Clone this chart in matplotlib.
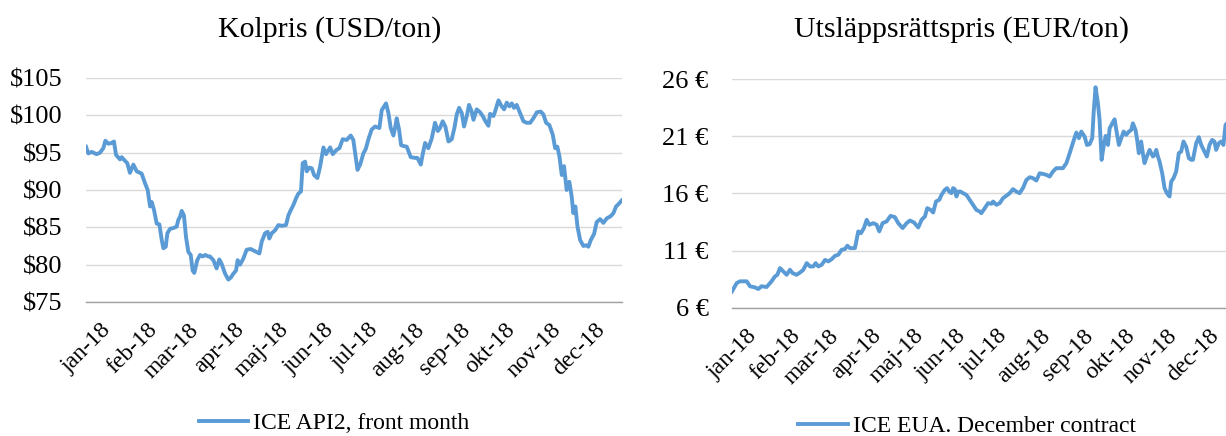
import numpy as np
import pandas as pd
import matplotlib
matplotlib.use("Agg")
import matplotlib.pyplot as plt
from matplotlib.transforms import ScaledTranslation

plt.rcParams['font.family'] = ['Liberation Serif', 'DejaVu Serif']

# day of year 2018 (0 = 1 jan) and price
coal_day = [0, 1.6, 3.8, 7.2, 9.5, 11.7, 13.1, 15.1, 17.4, 18.9, 20.3, 23.0, 24.1, 26.4, 27.9,
            29.7, 32.0, 34.3, 37.6, 39.9, 41.7, 43.3, 44.4, 46.0, 47.8, 49.6, 51.2, 52.3, 53.9,
            55.0, 56.8, 59.0, 61.3, 62.4, 63.5, 64.7, 66.2, 67.6, 69.2, 70.8, 72.1, 73.2, 75.2,
            77.1, 78.9, 80.6, 82.7, 83.8, 86.1, 88.3, 90.1, 91.7, 94.0, 96.2, 98.0, 99.6, 101.4,
            102.5, 104.1, 106.3, 108.6, 111.3, 114.2, 117.2, 118.8, 121.0, 122.8, 123.9, 125.5,
            127.8, 130.0, 132.3, 135.2, 136.8, 138.4, 140.2, 142.0, 143.5, 145.3,
            146.5, 148.1, 149.2, 151.0, 152.6, 154.2, 156.4, 158.2, 160.5, 162.3, 165.0, 166.8,
            169.5, 171.3, 173.5, 176.2, 178.9, 180.7, 183.5, 185.3, 187.5, 189.1, 190.9, 193.1,
            195.4, 198.3, 199.9, 202.8, 204.4, 206.0, 207.8, 209.1, 210.0, 211.6, 213.0, 214.5,
            216.8, 219.5, 222.4, 224.0, 226.3, 227.6, 229.2, 231.4, 233.7, 235.9, 237.8, 239.3,
            241.1, 242.9, 245.0, 247.2, 249.0, 250.6, 252.2, 254.0, 255.5, 257.4, 258.9, 260.7,
            261.9, 264.1, 266.4, 268.2, 270.0, 272.0, 273.1, 275.4, 276.5, 278.8, 281.0, 282.6,
            284.4, 286.2, 287.8, 289.3, 291.1, 293.4, 295.7, 297.9, 300.2, 302.4, 304.7, 307.4,
            309.2, 311.0, 313.2, 315.5, 317.1, 318.6, 320.0, 321.6, 323.1, 324.9, 326.7, 328.3,
            329.4, 330.8, 332.2, 334.0, 336.2, 338.0, 339.6, 341.2, 343.4, 345.2, 347.5, 349.7,
            352.0, 354.7, 356.5, 358.3, 359.9, 362.1]
coal_price = [95.8, 94.9, 95.1, 94.8, 95.0, 95.6, 96.6, 96.2, 96.3, 96.5, 94.7, 94.1, 94.4, 93.9,
              93.6, 92.3, 93.4, 92.5, 92.2, 90.9, 90.0, 87.8, 88.4, 87.3, 85.5, 85.4, 83.3, 82.2,
              82.4, 84.2, 84.8, 84.9, 85.1, 86.0, 86.4, 87.2, 86.6, 83.7, 81.7, 81.3, 79.2, 78.9,
              80.6, 81.3, 81.1, 81.3, 81.1, 81.1, 80.6, 79.5, 80.7, 80.1, 78.8, 78.0, 78.3, 78.8,
              79.2, 80.6, 80.0, 80.8, 82.0, 82.1, 81.8, 81.5, 83.1, 84.2, 84.4, 83.5, 84.2, 84.6,
              85.3, 85.2, 85.3, 86.6, 87.3, 88.0, 88.9, 89.5, 89.8,
              93.6, 93.8, 92.5, 93.0, 92.9, 92.0, 91.6, 93.1, 95.7, 94.8, 95.7, 94.8, 95.4, 95.6,
              96.8, 96.7, 97.3, 96.7, 92.7, 93.4, 94.9, 95.5, 96.8, 98.1, 98.5, 98.3, 100.7, 101.6,
              100.3, 98.3, 97.3, 98.5, 99.6, 98.1, 96.0, 95.9, 95.8, 94.4, 94.3, 94.3, 93.4, 94.8,
              96.3, 95.6, 96.9, 99.0, 97.9, 98.3, 99.2, 98.5, 96.5, 96.8, 98.3, 100.1, 101.0,
              100.3, 98.5, 99.9, 101.4, 100.5, 99.4, 100.8, 100.4, 99.9, 99.2, 98.6, 100.2, 99.9,
              100.5, 102.0, 101.2, 100.8, 101.7, 101.2, 101.6, 101.0, 101.4, 100.3, 99.2, 99.0,
              99.0, 99.6, 100.4, 100.5, 100.1, 99.0, 98.7, 97.4, 95.6, 95.8, 94.5, 92.0, 93.2,
              90.0, 91.1, 89.1, 86.9, 87.8, 85.1, 83.3, 82.5, 82.6, 82.4, 83.3, 84.1, 85.7, 86.1,
              85.6, 86.2, 86.5, 86.9, 87.8, 88.1, 88.6]

eua_day = [0, 3.4, 5.8, 10.6, 13.0, 16.6, 19.0, 21.4, 25.0, 28.6, 31.1, 32.8, 34.7, 37.1, 39.5,
           41.9, 43.8, 46.7, 49.2, 51.6, 54.0, 56.4, 58.8, 60.5, 62.4, 64.9, 67.3, 69.7, 72.1,
           74.5, 76.9, 79.3, 81.7, 83.4, 85.3, 88.9, 90.1, 91.3, 93.3, 95.4, 97.4, 99.3, 102.2,
           104.6, 106.5, 108.9, 111.8, 114.7, 117.8, 120.2, 123.4, 126.3, 128.7, 131.6, 134.7,
           137.1, 139.5, 141.2, 143.6, 145.5, 147.5, 149.9,
           151.5, 153.9, 155.5, 157.0, 158.7, 159.9, 161.1, 162.3, 163.5, 165.2, 167.1, 169.5,
           171.9, 174.3, 176.7, 179.1, 180.3, 182.8, 185.2, 187.6, 188.8, 191.2, 193.6, 196.0,
           198.4, 200.8, 203.2, 205.6, 208.0, 210.4, 212.9, 215.3, 217.7, 220.1, 222.5, 224.9,
           227.3, 229.7, 232.1, 234.5, 236.9, 239.3, 241.8, 244.2, 246.6, 249.0, 250.9, 252.6,
           255.0, 256.7, 258.6, 260.5, 261.5, 262.9, 264.6, 265.8, 267.3, 268.7, 270.2, 271.9,
           273.1, 275.0, 276.7, 277.9, 279.8, 281.5, 283.2, 285.1, 287.0, 288.7, 289.9, 291.8,
           292.8, 294.2, 295.9, 297.1, 298.3, 300.0, 302.0, 303.2, 304.4, 305.6, 306.8, 308.0,
           309.2, 311.1, 312.8, 314.5, 316.4, 317.6, 319.3, 321.2, 323.1, 324.8, 326.5, 328.4,
           330.4, 332.1, 333.3, 335.7, 337.6, 339.3, 341.7, 343.4, 345.3, 347.2, 348.9, 350.1,
           352.0, 353.7, 355.4, 356.9, 360.0]
eua_price = [7.45, 8.18, 8.33, 8.33, 7.90, 7.80, 7.66, 7.90, 7.83, 8.33, 8.76, 8.90, 9.49, 9.20,
             8.90, 9.34, 9.05, 8.90, 9.10, 9.34, 9.92, 9.63, 9.63, 9.92, 9.63, 9.78, 10.20, 10.07,
             10.27, 10.56, 10.65, 11.09, 11.15, 11.44, 11.23, 11.23, 11.96, 12.69, 12.54, 12.98,
             13.70, 13.27, 13.41, 13.27, 12.69, 13.41, 13.56, 14.05, 13.94, 13.41, 12.98, 13.41,
             13.64, 13.47, 13.03, 13.70, 13.99, 14.72, 14.57, 14.34, 15.30, 15.45,
             15.88, 16.32, 16.47, 16.17, 16.03, 16.47, 16.38, 15.74, 16.17, 16.17, 16.03, 15.88,
             15.45, 15.01, 14.57, 14.43, 14.28, 14.72, 15.16, 15.10, 15.30, 15.01, 15.16, 15.59,
             15.80, 16.03, 16.38, 16.17, 16.03, 16.47, 17.19, 17.42, 17.34, 17.13, 17.77, 17.71,
             17.63, 17.48, 17.92, 18.21, 18.21, 18.21, 18.65, 19.52, 20.45, 21.32, 20.83, 21.41,
             20.97, 20.24, 20.30, 20.83, 23.01, 25.28, 23.88, 22.42, 18.94, 20.10, 21.03, 20.24,
             21.70, 22.13, 22.48, 21.55, 20.24, 20.83, 21.41, 21.12, 21.41, 21.55, 22.13, 21.55,
             20.83, 19.52, 20.54, 19.52, 18.65, 19.23, 19.81, 19.52, 19.23, 19.37, 19.81, 19.23,
             18.79, 17.77, 16.47, 16.03, 15.74, 17.04, 17.34, 17.92, 19.52, 19.66, 20.54, 20.10,
             19.08, 18.94, 18.94, 20.39, 20.92, 20.24, 19.66, 19.23, 20.24, 20.68, 20.54, 19.81,
             20.39, 20.54, 20.24, 21.99, 22.40]

month_day = [0, 31, 59, 90, 120, 151, 181, 212, 243, 273, 304, 334]
month_labels = ['jan-18', 'feb-18', 'mar-18', 'apr-18', 'maj-18', 'jun-18',
                'jul-18', 'aug-18', 'sep-18', 'okt-18', 'nov-18', 'dec-18']

coal_ticks = [75, 80, 85, 90, 95, 100, 105]
eua_ticks = [6, 11, 16, 21, 26]

blue = '#5B9BD5'
W, H = 1226, 436
fig = plt.figure(figsize=(W / 100, H / 100), dpi=100)

ax1 = fig.add_axes([86 / W, (H - 302) / H, 536 / W, 224 / H])
ax2 = fig.add_axes([732 / W, (H - 308) / H, 501 / W, 229 / H])


def style(ax, yticks, ylabels, xmax):
    ax.set_xlim(0, xmax)
    ax.set_ylim(yticks[0], yticks[-1])
    ax.set_yticks(yticks)
    ax.set_yticklabels(ylabels, fontsize=19)
    ax.grid(axis='y', color='#D9D9D9', lw=1.0)
    ax.set_axisbelow(True)
    for s in ['top', 'right', 'left']:
        ax.spines[s].set_visible(False)
    ax.spines['bottom'].set_color('#A0A0A0')
    ax.spines['bottom'].set_linewidth(1.0)
    ax.spines['bottom'].set_zorder(3)
    ax.tick_params(axis='both', length=0)
    ax.tick_params(axis='y', pad=17)
    ax.tick_params(axis='x', pad=12.5)
    ax.set_xticks(month_day)
    ax.set_xticklabels(month_labels, fontsize=17, rotation=45, ha='right', va='top',
                       rotation_mode='anchor')
    off = ScaledTranslation(14.5 / 100, 0, fig.dpi_scale_trans)
    for lab in ax.get_xticklabels():
        lab.set_transform(lab.get_transform() + off)


l1, = ax1.plot(coal_day, coal_price, color=blue, lw=2.8, solid_joinstyle='round')
style(ax1, coal_ticks, ['$%d' % v for v in coal_ticks], 362.3)

l2, = ax2.plot(eua_day, eua_price, color=blue, lw=2.8, solid_joinstyle='round')
style(ax2, eua_ticks, ['%d €' % v for v in eua_ticks], 362.3)

fig.text(330 / W, 1 - 30 / H, 'Kolpris (USD/ton)', ha='center', va='center', fontsize=21.5)
fig.text(961 / W, 1 - 30 / H, 'Utsläppsrättspris (EUR/ton)', ha='center', va='center',
         fontsize=21.5)

fig.legend([l1], ['ICE API2, front month'], loc='center', bbox_to_anchor=(334 / W, 1 - 423 / H),
           frameon=False, fontsize=17, handlelength=2.1, handletextpad=0.2)
fig.legend([l2], ['ICE EUA. December contract'], loc='center',
           bbox_to_anchor=(967 / W, 1 - 426 / H),
           frameon=False, fontsize=17, handlelength=2.1, handletextpad=0.2)

fig.savefig('out.png', dpi=100)
